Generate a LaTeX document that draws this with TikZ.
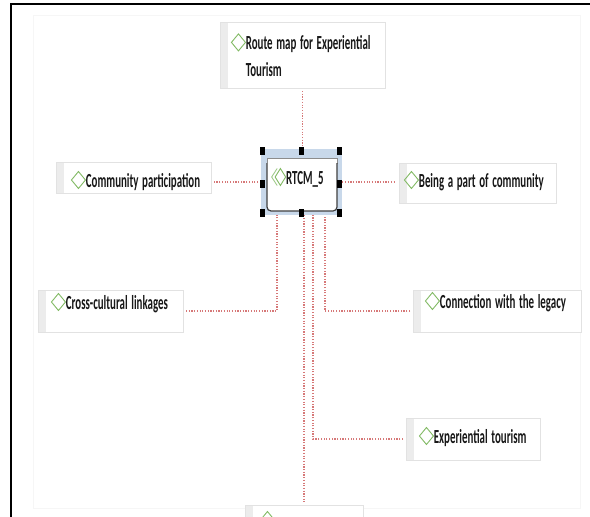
\documentclass[tikz,border=0pt]{standalone}
\usepackage{fontspec}
\setmainfont{Carlito}
\usepackage{graphicx}
\usetikzlibrary{calc}

\definecolor{linkred}{RGB}{214,120,120}
\definecolor{dmdgreen}{RGB}{130,186,100}
\definecolor{boxline}{RGB}{226,226,226}
\definecolor{stripgray}{RGB}{236,236,236}
\definecolor{selblue}{RGB}{200,216,234}
\definecolor{inktext}{RGB}{24,24,24}
\definecolor{panelgray}{RGB}{246,246,246}

% condensed label text
\newcommand\lbl[1]{\scalebox{0.545}[1]{\bfseries #1}}
% green concept diamond
\newcommand\dmd{\tikz[x=1pt,y=1pt,baseline=0pt]\draw[dmdgreen,line width=0.9pt,line join=miter] (0,7)--(7,15.5)--(14,7)--(7,-1.5)--cycle;}
% chevron + diamond glyph of the selected item
\newcommand\dmdpair{\tikz[x=1pt,y=1pt,baseline=0pt]{%
  \draw[dmdgreen!75,line width=0.9pt] (5.5,15.5)--(0,7)--(5.5,-1.5);
  \draw[dmdgreen,line width=0.9pt,line join=miter] (3.5,7)--(8.75,15.5)--(14,7)--(8.75,-1.5)--cycle;}}

\begin{document}
\begin{tikzpicture}[x=1pt,y=-1pt,
  box/.style={draw=boxline, fill=white, line width=0.8pt, inner sep=0pt,
    outer sep=3pt, align=left, text=inktext, font=\fontsize{20}{22}\selectfont,
    path picture={\fill[stripgray] (path picture bounding box.north west)
      rectangle ([xshift=8pt]path picture bounding box.south west);}},
  concept/.style n args={3}{box, anchor=base west, text width=#1,
    text height=#2, text depth=#3},
  link/.style={draw=linkred, line width=1.1pt, dash pattern=on 1.2pt off 1.5pt},
  handle/.style={fill=black, draw=none, inner sep=0pt, minimum width=5pt,
    minimum height=8pt},
  selbox/.style={fill=selblue, draw=none, inner sep=0pt, minimum width=81pt,
    minimum height=66pt},
]
\useasboundingbox (0,0) rectangle (590,517);
\clip (0,0) rectangle (590,517);

% page frame and panel
\fill[white] (0,0) rectangle (590,517);
\draw[panelgray, line width=0.8pt] (33,15) rectangle (580,508);
\draw[black, line width=2pt] (10,4.3) -- (590,4.3);
\draw[black, line width=2pt] (11,3.3) -- (11,517);

% concept boxes
\node[box, text width=165pt, minimum height=66pt, anchor=center] (route) at (302.5,55)
  {\hspace*{11pt}\dmd\lbl{Route map for Experiential}\\[5pt]\hspace*{11pt}\hphantom{\dmd}\lbl{Tourism}};
\node[concept={155pt}{25pt}{6pt}]  (comm)   at (53,187)  {\hspace*{15pt}\dmd\lbl{Community participation}};
\node[concept={157pt}{24pt}{16pt}] (being)  at (396,187) {\hspace*{5pt}\dmd\lbl{Being a part of community}};
\node[concept={145pt}{19pt}{23pt}] (cross)  at (35,309)  {\hspace*{13pt}\dmd\lbl{Cross-cultural linkages}};
\node[concept={168pt}{18pt}{24pt}] (legacy) at (410,308) {\hspace*{12pt}\dmd\lbl{Connection with the legacy}};
\node[concept={134pt}{25pt}{17pt}] (tour)   at (403,443) {\hspace*{13pt}\dmd\lbl{Experiential tourism}};
\node[concept={118pt}{22pt}{20pt}] (last)   at (242,527) {\hspace*{15pt}\dmd};

% selected item: selection frame, item shape, label
\node[selbox] (rtcm) at (301.5,182) {};
\filldraw[fill=white, draw=black!45, line width=0.8pt] (267,158) rectangle (337,163);
\filldraw[fill=white, draw=black!75, line width=1.2pt, rounded corners=4pt]
  (267,163) -- (267,211) -- (337,211) -- (337,163);
\node[anchor=base west, inner sep=0pt, text=inktext, font=\fontsize{20}{22}\selectfont]
  (rtcmlabel) at (271,184) {\dmdpair\lbl{RTCM\_5}};

% connectors
\draw[link] (route.south) -- (route.south |- rtcm.north);
\draw[link] (rtcm.west) -- (rtcm.west -| comm.east);
\draw[link] (rtcm.east) -- (rtcm.east -| being.west);
\draw[link] (cross.east) -| ([xshift=-24.5pt]rtcm.south);
\draw[link] (legacy.west) -| ([xshift=23.5pt]rtcm.south);
\draw[link] (tour.west) -| ([xshift=11.5pt]rtcm.south);
\draw[link] (last.north |- rtcm.south) -- (last.north);

% selection handles
\node[handle] (h1) at (262.5,151) {};
\node[handle] (h2) at (301,151) {};
\node[handle] (h3) at (339.5,151) {};
\node[handle] (h4) at (262.5,183.5) {};
\node[handle] (h5) at (339.5,183.5) {};
\node[handle] (h6) at (262.5,213) {};
\node[handle] (h7) at (301,213) {};
\node[handle] (h8) at (339.5,213) {};
\end{tikzpicture}
\end{document}
